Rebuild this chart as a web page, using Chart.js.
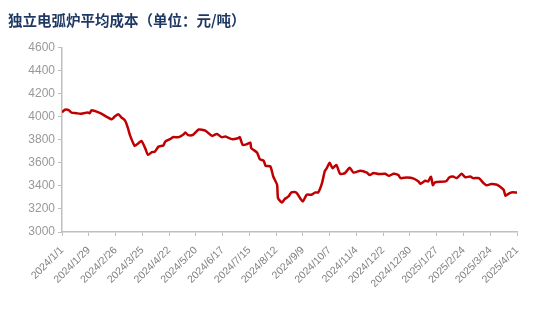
<!DOCTYPE html>
<html>
<head>
<meta charset="utf-8">
<script src="https://cdn.jsdelivr.net/npm/chart.js@4/dist/chart.umd.min.js"></script>
<style>
  html, body { margin: 0; padding: 0; background: #fff; }
  #wrap { width: 550px; height: 312px; }
</style>
</head>
<body>
<div id="wrap"><canvas id="grafico"></canvas></div>
<script>
// dias desde 2024/1/1 e custo medio (元/吨)
const dias = [0, 3, 7, 10, 15, 19, 24, 27, 29, 31, 40, 52, 55, 59, 62, 66, 69, 71, 76, 80,
  83, 87, 90, 94, 97, 101, 106, 108, 113, 116, 122, 127, 129, 132, 137, 143, 150, 157, 162, 167,
  171, 178, 184, 186, 189, 193, 197, 198, 204, 207, 211, 213, 218, 221, 225, 226, 230, 233, 237, 240,
  245, 249, 252, 256, 261, 265, 268, 272, 275, 277, 280, 283, 287, 291, 296, 301, 305, 312, 319, 322,
  326, 331, 338, 342, 347, 352, 354, 361, 368, 373, 375, 380, 383, 386, 388, 390, 402, 405, 409, 413,
  418, 422, 427, 430, 436, 441, 444, 449, 455, 458, 462, 464, 467, 470, 476];
const custos = [4037, 4060, 4057, 4035, 4030, 4025, 4032, 4035, 4030, 4055, 4030, 3977, 4000, 4020, 3994, 3965, 3900, 3842, 3747, 3770,
  3790, 3727, 3669, 3692, 3695, 3740, 3750, 3784, 3805, 3822, 3822, 3845, 3862, 3840, 3842, 3888, 3879, 3833, 3850, 3822,
  3827, 3805, 3813, 3822, 3755, 3760, 3775, 3727, 3689, 3631, 3617, 3574, 3568, 3481, 3409, 3294, 3256, 3285, 3308, 3343,
  3343, 3294, 3265, 3323, 3323, 3343, 3343, 3424, 3530, 3553, 3600, 3553, 3580, 3504, 3510, 3556, 3515, 3530, 3515, 3493,
  3512, 3502, 3505, 3487, 3505, 3493, 3467, 3472, 3463, 3438, 3418, 3444, 3438, 3478, 3406, 3429, 3441, 3472, 3481, 3467,
  3504, 3475, 3481, 3467, 3467, 3424, 3406, 3415, 3410, 3395, 3366, 3314, 3331, 3343, 3343];

const titulo = "独立电弧炉平均成本（单位：元/吨）";
const inicio = new Date(2024, 0, 1);

function formatarData(d) {
    const dt = new Date(inicio.getTime());
    dt.setDate(dt.getDate() + d);
    return dt.getFullYear() + "/" + (dt.getMonth() + 1) + "/" + dt.getDate();
}

const pontos = dias.map((d, i) => ({ x: d, y: custos[i] }));
const cinza = "#bfbfbf";

new Chart(document.getElementById("grafico"), {
    type: "line",
    data: {
        datasets: [{
            data: pontos,
            borderColor: "#c00000",
            borderWidth: 2.5,
            pointRadius: 0,
            tension: 0.2,
            fill: false
        }]
    },
    options: {
        responsive: true,
        maintainAspectRatio: false,
        animation: false,
        layout: { padding: { left: 8, right: 33, top: 0, bottom: 0 } },
        plugins: {
            legend: { display: false },
            tooltip: { enabled: false },
            title: {
                display: true,
                text: titulo,
                align: "start",
                color: "#1f3864",
                font: { family: "'Noto Sans CJK SC'", size: 14.5, weight: "bold" },
                padding: { top: 12, bottom: 18 }
            }
        },
        scales: {
            x: {
                type: "linear",
                min: 0,
                max: 476,
                afterFit: s => { s.height = 80; },
                grid: { drawOnChartArea: false, drawTicks: true, tickLength: 4, color: cinza },
                border: { color: cinza, width: 1.5 },
                ticks: {
                    stepSize: 28,
                    autoSkip: false,
                    maxRotation: 45,
                    minRotation: 45,
                    padding: 8,
                    color: "#808080",
                    font: { family: "'Liberation Sans'", size: 10.5 },
                    callback: v => formatarData(v)
                }
            },
            y: {
                min: 3000,
                max: 4600,
                afterFit: s => { s.width = 54; },
                grid: { drawOnChartArea: false, drawTicks: true, tickLength: 4, color: cinza },
                border: { color: cinza, width: 1.5 },
                ticks: {
                    stepSize: 200,
                    color: "#999999",
                    padding: 3,
                    font: { family: "'Liberation Sans'", size: 12 },
                    callback: v => String(v)
                }
            }
        }
    }
});
</script>
</body>
</html>
